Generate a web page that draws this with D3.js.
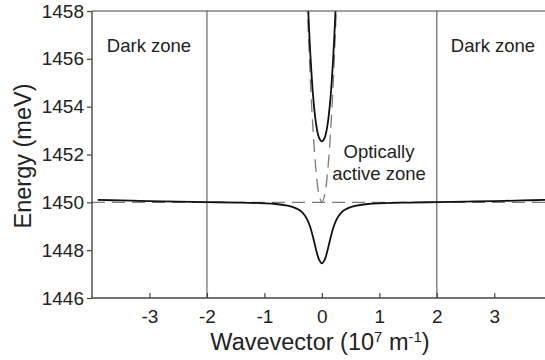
<!DOCTYPE html>
<html><head><meta charset="utf-8">
<script src="https://cdn.jsdelivr.net/npm/d3@7"></script>
<style>body{margin:0;background:#fff}svg{display:block}text{font-family:"Liberation Sans",Arial,sans-serif;fill:#222}</style>
</head><body><svg id="c" width="545" height="360"></svg>
<script>
// Data
const yTicks = [1446, 1448, 1450, 1452, 1454, 1456, 1458];
const xTicks = [-3, -2, -1, 0, 1, 2, 3];
const xTickLabels = ["-3", "-2", "-1", "0", "1", "2", "3"];
const zoneBounds = [-2, 2];
// Lower polariton (solid)
const lpK = [-3.9,-3.5,-3,-2.5,-2,-1.5,-1,-0.8,-0.6,-0.5,-0.4,-0.35,-0.3,-0.25,-0.2,-0.15,-0.1,-0.05,0,0.05,0.1,0.15,0.2,0.25,0.3,0.35,0.4,0.5,0.6,0.8,1,1.5,2,2.5,3,3.5,3.9];
const lpE = [1450.10,1450.08,1450.05,1450.03,1450.01,1449.99,1449.96,1449.93,1449.86,1449.80,1449.69,1449.60,1449.46,1449.26,1448.95,1448.51,1448.01,1447.61,1447.45,1447.61,1448.01,1448.51,1448.95,1449.26,1449.46,1449.60,1449.69,1449.80,1449.86,1449.93,1449.96,1449.99,1450.01,1450.03,1450.05,1450.08,1450.10];
// Upper polariton (solid)
const upK = [-0.25,-0.24,-0.22,-0.2,-0.15,-0.1,-0.05,0,0.05,0.1,0.15,0.2,0.22,0.24,0.25];
const upE = [1458.74,1458.17,1457.11,1456.17,1454.37,1453.27,1452.71,1452.55,1452.71,1453.27,1454.37,1456.17,1457.11,1458.17,1458.74];
// Uncoupled photon (dashed)
const phK = [-0.27,-0.25,-0.2,-0.15,-0.1,-0.05,0,0.05,0.1,0.15,0.2,0.25,0.27];
const phE = [1459.33,1458.0,1455.12,1452.88,1451.28,1450.32,1450.0,1450.32,1451.28,1452.88,1455.12,1458.0,1459.33];
// Uncoupled exciton (dashed)
const exK = [-4, 4];
const exE = [1450, 1450];

const svg = d3.select("#c");
const L = 92, R = 546, T = 11, B = 298;
const x = d3.scaleLinear().domain([-4, 3.9]).range([L, R]);
const y = d3.scaleLinear().domain([1446, 1458]).range([B, T]);

svg.append("clipPath").attr("id","clip").append("rect").attr("x",L).attr("y",T).attr("width",R-L).attr("height",B-T);
const g = svg.append("g").attr("clip-path","url(#clip)");

// zone boundaries
g.selectAll(".zb").data(zoneBounds).join("line")
  .attr("x1",d=>x(d)).attr("x2",d=>x(d)).attr("y1",T).attr("y2",B)
  .attr("stroke","#666").attr("stroke-width",1.2);

const line = d3.line().x(d=>x(d[0])).y(d=>y(d[1])).curve(d3.curveCatmullRom);
const zip = (a,b)=>a.map((v,i)=>[v,b[i]]);

g.append("path").attr("d", d3.line().x(d=>x(d[0])).y(d=>y(d[1]))(zip(exK,exE)))
  .attr("fill","none").attr("stroke","#7a7a7a").attr("stroke-width",1.3).attr("stroke-dasharray","13,7");
g.append("path").attr("d", line(zip(phK,phE)))
  .attr("fill","none").attr("stroke","#7a7a7a").attr("stroke-width",1.3).attr("stroke-dasharray","13,7");
g.append("path").attr("d", line(zip(lpK,lpE)))
  .attr("fill","none").attr("stroke","#111").attr("stroke-width",1.8);
g.append("path").attr("d", line(zip(upK,upE)))
  .attr("fill","none").attr("stroke","#111").attr("stroke-width",1.8);

// top border
svg.append("line").attr("x1",L).attr("x2",R).attr("y1",T).attr("y2",T).attr("stroke","#444").attr("stroke-width",1.2);

// axes
const xa = svg.append("g").attr("transform",`translate(0,${B})`)
  .call(d3.axisBottom(x).tickValues(xTicks).tickSize(-5).tickPadding(12).tickFormat((d,i)=>xTickLabels[i]));
const ya = svg.append("g").attr("transform",`translate(${L},0)`)
  .call(d3.axisLeft(y).tickValues(yTicks).tickSize(5).tickPadding(3).tickFormat(d3.format("d")));
[xa,ya].forEach(a=>{
  a.select(".domain").attr("stroke","#444").attr("stroke-width",1.4);
  a.selectAll(".tick line").attr("stroke","#444").attr("stroke-width",1.2);
  a.selectAll("text").style("font-size","19px").style("font-family","'Liberation Sans',Arial,sans-serif").attr("fill","#222");
});
xa.select(".domain").attr("d",`M${L},0H${R}`);
ya.select(".domain").attr("d",`M0,${B}V${T}`);

// zone labels
const lab = (t,xx,yy)=>svg.append("text").attr("x",xx).attr("y",yy).attr("text-anchor","middle").style("font-size","18.5px").text(t);
lab("Dark zone",149,52);
lab("Dark zone",493,52);
lab("Optically",379,158);
lab("active zone",379,180);

// axis titles
svg.append("text").attr("transform","translate(31,156) rotate(-90)").attr("text-anchor","middle").style("font-size","23.5px").text("Energy (meV)");
const xt = svg.append("text").attr("x",320).attr("y",350).attr("text-anchor","middle").style("font-size","23.5px");
xt.append("tspan").text("Wavevector (10");
xt.append("tspan").attr("dy",-8).style("font-size","15px").text("7");
xt.append("tspan").attr("dy",8).text(" m");
xt.append("tspan").attr("dy",-8).style("font-size","15px").text("-1");
xt.append("tspan").attr("dy",8).text(")");
</script></body></html>
